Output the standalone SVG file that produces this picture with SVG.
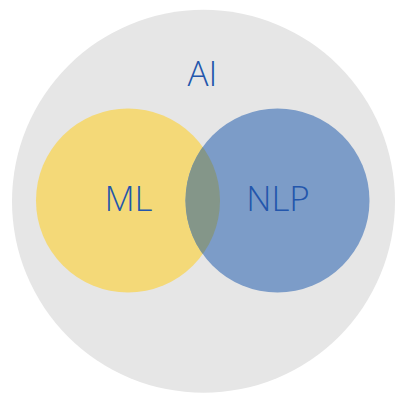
<svg xmlns="http://www.w3.org/2000/svg" width="400" height="404" viewBox="0 0 400 404">
<style>
.lbl{font-family:"Open Sans","Liberation Sans",sans-serif;font-weight:300;font-size:35px;fill:#2356ac;text-anchor:middle}
</style>
<defs>
<clipPath id="mlclip"><circle cx="128" cy="200.5" r="92"/></clipPath>
</defs>
<rect width="400" height="404" fill="#ffffff"/>
<g id="ai">
<circle cx="203.5" cy="201.3" r="191.5" fill="#e6e6e6"/>
<text class="lbl" x="202.5" y="86">AI</text>
</g>
<g id="ml">
<circle cx="128" cy="200.5" r="92" fill="#f4d978"/>
<text class="lbl" x="128.5" y="211">ML</text>
</g>
<g id="nlp">
<circle cx="277.5" cy="200.5" r="92" fill="#7c9cc8"/>
<circle cx="277.5" cy="200.5" r="92" fill="#849689" clip-path="url(#mlclip)"/>
<text class="lbl" x="278" y="211">NLP</text>
</g>
<g id="connectors"/>
</svg>
